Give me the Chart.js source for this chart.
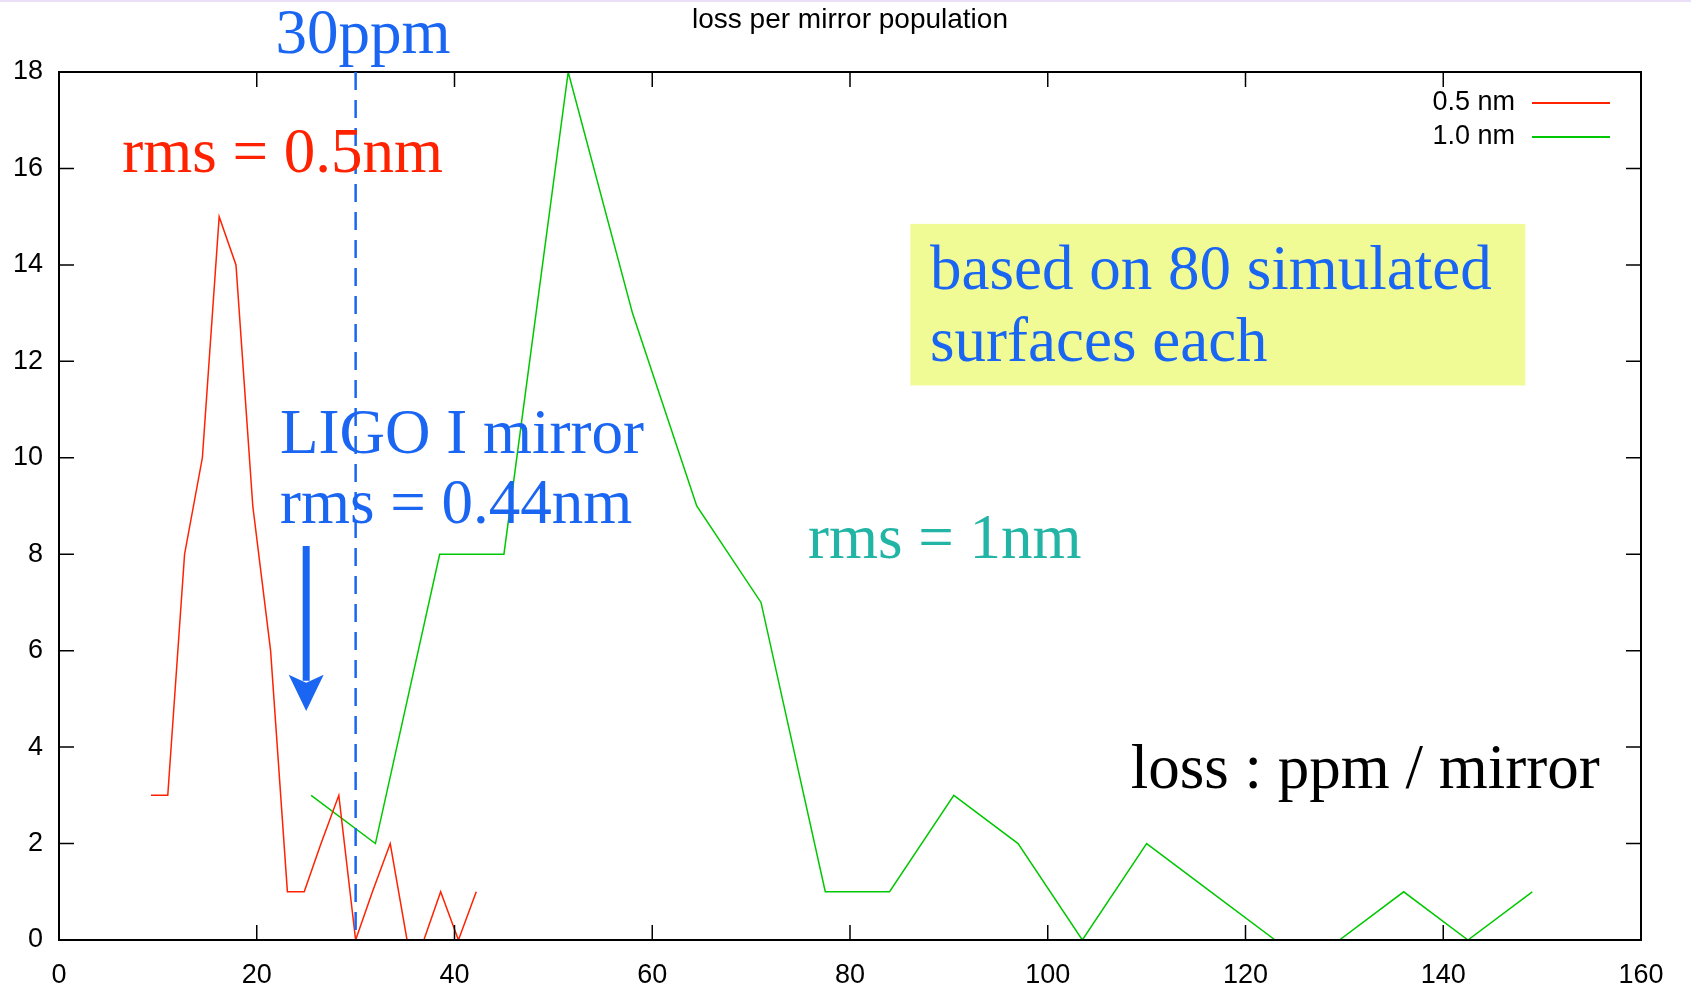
<!DOCTYPE html>
<html>
<head>
<meta charset="utf-8">
<title>loss per mirror population</title>
<script src="https://cdn.jsdelivr.net/npm/chart.js@4.4.1/dist/chart.umd.min.js"></script>
<style>
  html, body { margin: 0; padding: 0; background: #fff; }
  #wrap { width: 1691px; height: 984px; }
</style>
</head>
<body>
<div id="wrap"><canvas id="myChart" width="1691" height="984"></canvas></div>
<script>
// loss bins (ppm) and counts for each rms population
var lossHalf = [9.3, 11.0, 12.7, 14.5, 16.2, 17.9, 19.6, 21.4, 23.1, 24.8, 26.5, 28.3, 30.0, 31.7, 33.5, 35.2, 36.9, 38.6, 40.4, 42.2];
var countHalf = [3, 3, 8, 10, 15, 14, 9, 6, 1, 1, 2, 3, 0, 1, 2, 0, 0, 1, 0, 1];

var lossOne = [25.5, 32.0, 38.5, 45.0, 51.5, 58.0, 64.5, 71.0, 77.5, 84.0, 90.5, 97.0, 103.5, 110.0, 116.5, 123.0, 129.5, 136.0, 142.5, 149.0];
var countOne = [3, 2, 8, 8, 18, 13, 9, 7, 1, 1, 3, 2, 0, 2, 1, 0, 0, 1, 0, 1];

var seriesNames = ["0.5 nm", "1.0 nm"];
var xTicks = [0, 20, 40, 60, 80, 100, 120, 140, 160];
var yTicks = [0, 2, 4, 6, 8, 10, 12, 14, 16, 18];

var limitPpm = 30;

var SANS = "'Liberation Sans', Arial, Helvetica, sans-serif";
var SERIF = "'Liberation Serif', 'Times New Roman', serif";
var BLUE = "#1a66f2";

function pts(xs, ys) {
    return xs.map(function (x, i) { return { x: x, y: ys[i] }; });
}

// frame with inward ticks on all four sides, gnuplot style
var framePlugin = {
    id: "frame",
    afterDatasetsDraw: function (chart) {
        var c = chart.ctx, a = chart.chartArea;
        var xs = chart.scales.x, ys = chart.scales.y;
        var len = 15;
        c.save();
        c.strokeStyle = "#000";
        c.lineWidth = 2;
        c.strokeRect(a.left, a.top, a.right - a.left, a.bottom - a.top);
        c.lineWidth = 1.5;
        c.beginPath();
        xTicks.forEach(function (v) {
            var px = xs.getPixelForValue(v);
            c.moveTo(px, a.bottom); c.lineTo(px, a.bottom - len);
            c.moveTo(px, a.top); c.lineTo(px, a.top + len);
        });
        yTicks.forEach(function (v) {
            var py = ys.getPixelForValue(v);
            c.moveTo(a.left, py); c.lineTo(a.left + len, py);
            c.moveTo(a.right, py); c.lineTo(a.right - len, py);
        });
        c.stroke();
        c.restore();
    }
};

// key in the upper right corner: text, then line sample
var keyPlugin = {
    id: "key",
    afterDraw: function (chart) {
        var c = chart.ctx, a = chart.chartArea;
        c.save();
        c.font = "27px " + SANS;
        c.textAlign = "right";
        c.textBaseline = "middle";
        chart.data.datasets.forEach(function (ds, i) {
            var y = a.top + 31 + i * 34;
            c.fillStyle = "#000";
            c.fillText(ds.label, a.right - 126, y);
            c.strokeStyle = ds.borderColor;
            c.lineWidth = 2;
            c.beginPath();
            c.moveTo(a.right - 109, y);
            c.lineTo(a.right - 31, y);
            c.stroke();
        });
        c.restore();
    }
};

// slide annotations placed in data units
var notesPlugin = {
    id: "notes",
    beforeDatasetsDraw: function (chart) {
        var c = chart.ctx, xs = chart.scales.x, ys = chart.scales.y;
        // yellow box
        var bx1 = xs.getPixelForValue(86.1), bx2 = xs.getPixelForValue(148.3);
        var by1 = ys.getPixelForValue(14.85), by2 = ys.getPixelForValue(11.5);
        c.save();
        c.fillStyle = "#f0fb96";
        c.fillRect(bx1, by1, bx2 - bx1, by2 - by1);
        c.restore();
    },
    afterDraw: function (chart) {
        var c = chart.ctx, a = chart.chartArea, xs = chart.scales.x, ys = chart.scales.y;
        function txt(s, x, y, color, size) {
            c.fillStyle = color;
            c.font = size + "px " + SERIF;
            c.fillText(s, xs.getPixelForValue(x), ys.getPixelForValue(y));
        }
        c.save();
        // thin slide edge at the very top
        c.fillStyle = "#ecdff8";
        c.fillRect(0, 0, chart.width, 2);

        // title
        c.fillStyle = "#000";
        c.font = "28px " + SANS;
        c.textAlign = "center";
        c.textBaseline = "middle";
        c.fillText("loss per mirror population", 850, 20);

        // 30 ppm dashed marker
        var lx = xs.getPixelForValue(limitPpm);
        c.strokeStyle = BLUE;
        c.lineWidth = 2.5;
        c.setLineDash([18, 10]);
        c.beginPath();
        c.moveTo(lx, a.top);
        c.lineTo(lx, a.bottom);
        c.stroke();
        c.setLineDash([]);

        c.textAlign = "left";
        c.textBaseline = "alphabetic";
        txt("30ppm", 21.9, 18.4, BLUE, 63);
        txt("rms = 0.5nm", 6.4, 15.93, "#ff2200", 63);
        txt("LIGO I mirror", 22.35, 10.1, BLUE, 63);
        txt("rms = 0.44nm", 22.35, 8.65, BLUE, 63);
        txt("rms = 1nm", 75.75, 7.92, "#22b5a6", 63);
        txt("loss : ppm / mirror", 108.4, 3.15, "#000", 63);
        txt("based on 80 simulated", 88.1, 13.5, BLUE, 63);
        txt("surfaces each", 88.1, 12.0, BLUE, 63);

        // arrow pointing down
        var ax = xs.getPixelForValue(25);
        var aTop = ys.getPixelForValue(8.17);
        var aHead = ys.getPixelForValue(5.5);
        var aTip = ys.getPixelForValue(4.75);
        c.fillStyle = BLUE;
        c.fillRect(ax - 3.5, aTop, 7, aHead - aTop + 6);
        c.beginPath();
        c.moveTo(ax, aTip);
        c.lineTo(ax - 17.5, aHead);
        c.lineTo(ax, aHead + 8);
        c.lineTo(ax + 17.5, aHead);
        c.closePath();
        c.fill();
        c.restore();
    }
};

window.onload = function () {
    var ctx = document.getElementById("myChart").getContext("2d");
    var myChart = new Chart(ctx, {
        type: "scatter",
        data: {
            datasets: [{
                label: seriesNames[0],
                data: pts(lossHalf, countHalf),
                borderColor: "#ff2200",
                backgroundColor: "#ff2200",
                borderWidth: 1.5,
                showLine: true,
                pointRadius: 0,
                tension: 0
            },
            {
                label: seriesNames[1],
                data: pts(lossOne, countOne),
                borderColor: "#00c800",
                backgroundColor: "#00c800",
                borderWidth: 1.5,
                showLine: true,
                pointRadius: 0,
                tension: 0
            }]
        },
        options: {
            responsive: false,
            animation: false,
            layout: { padding: { top: 72, right: 50, bottom: 0, left: 0 } },
            plugins: {
                legend: { display: false },
                tooltip: { enabled: false },
                title: { display: false }
            },
            scales: {
                x: {
                    type: "linear",
                    min: 0,
                    max: 160,
                    afterBuildTicks: function (s) { s.ticks = xTicks.map(function (v) { return { value: v }; }); },
                    grid: { display: false, drawTicks: false },
                    border: { display: false },
                    ticks: { color: "#000", font: { family: SANS, size: 27 }, padding: 19, maxRotation: 0 },
                    afterFit: function (s) { s.height = 44; }
                },
                y: {
                    min: 0,
                    max: 18,
                    afterBuildTicks: function (s) { s.ticks = yTicks.map(function (v) { return { value: v }; }); },
                    grid: { display: false, drawTicks: false },
                    border: { display: false },
                    ticks: { color: "#000", font: { family: SANS, size: 27 }, padding: 16 },
                    afterFit: function (s) { s.width = 59; }
                }
            }
        },
        plugins: [notesPlugin, framePlugin, keyPlugin]
    });
};
</script>
</body>
</html>
